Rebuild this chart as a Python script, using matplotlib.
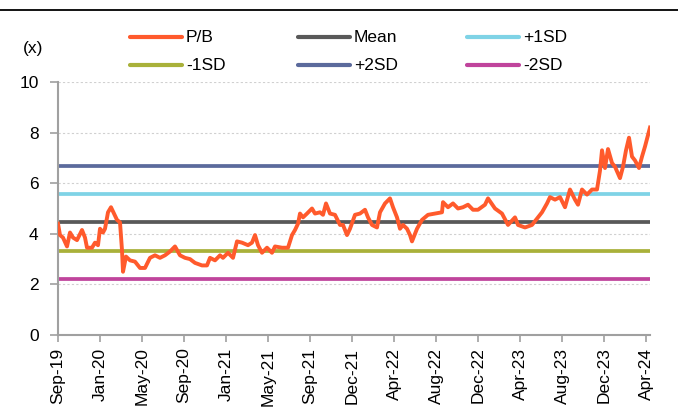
import numpy as np
import matplotlib
matplotlib.use("Agg")
import matplotlib.pyplot as plt
from matplotlib.lines import Line2D

# ---------------- data ----------------
tick_labels = ["Sep-19", "Jan-20", "May-20", "Sep-20", "Jan-21", "May-21", "Sep-21",
               "Dec-21", "Apr-22", "Aug-22", "Dec-22", "Apr-23", "Aug-23", "Dec-23", "Apr-24"]

# trading-day index of each reading (tick label every 84 trading days)
day = [0, 4, 10, 18, 24, 30, 38, 48, 54, 58, 68, 74, 80, 84, 90, 94, 100, 106, 112, 118,
       124, 128, 130, 136, 144, 154, 164, 174, 184, 194, 204, 214, 224, 234, 244, 254,
       264, 274, 288,
       298, 304, 314, 324, 330, 340, 350, 358, 368, 380, 388, 394, 400, 408, 418, 428,
       434, 448, 460, 468, 474, 480, 484, 490, 498, 508, 514, 524, 530, 536, 544, 554,
       564,
       570, 578, 584, 594, 604, 614, 620, 628, 638, 644, 654, 664, 670, 678, 684, 690,
       698, 704, 708, 718, 728, 740, 754, 768, 770, 780, 790, 800, 810, 820, 830, 840,
       854,
       860, 874, 888, 900, 914, 920, 934, 948, 958, 968, 978, 984, 994, 1004, 1014, 1024,
       1034, 1040, 1048, 1058, 1068, 1078, 1084, 1088, 1094, 1100, 1108, 1114, 1124,
       1130, 1136, 1142, 1148, 1154, 1162, 1168, 1174, 1180, 1184]

pb = [4.4, 3.95, 3.85, 3.5, 4.05, 3.85, 3.75, 4.15, 3.85, 3.45, 3.45, 3.65, 3.55, 4.2,
      4.05, 4.2, 4.85, 5.05, 4.8, 4.55, 4.45, 3.35, 2.5, 3.1, 2.95, 2.9, 2.65, 2.65, 3.05,
      3.15, 3.05, 3.15, 3.3, 3.5, 3.15, 3.05, 3.0, 2.85, 2.75,
      2.75, 3.05, 2.95, 3.15, 3.05, 3.25, 3.05, 3.7, 3.65, 3.55, 3.65, 3.95, 3.55, 3.25,
      3.45, 3.25, 3.5, 3.45, 3.45, 3.95, 4.15, 4.4, 4.8, 4.65, 4.8, 5.0, 4.8, 4.85, 4.75,
      5.2, 4.8, 4.75, 4.35,
      4.35, 3.95, 4.2, 4.75, 4.8, 4.95, 4.65, 4.35, 4.25, 4.85, 5.2, 5.4, 5.05, 4.65,
      4.2, 4.35, 4.2, 3.95, 3.7, 4.2, 4.55, 4.75, 4.8, 4.85, 5.25, 5.05, 5.2, 5.0, 5.05,
      5.15, 4.95, 4.95, 5.15,
      5.4, 5.0, 4.8, 4.35, 4.65, 4.35, 4.25, 4.35, 4.6, 4.85, 5.2, 5.45, 5.35, 5.45,
      5.05, 5.75, 5.35, 5.15, 5.75, 5.55, 5.75, 5.75, 6.5, 7.3, 6.6, 7.35, 6.8, 6.65,
      6.2, 6.65, 7.3, 7.8, 7.05, 6.9, 6.6, 7.05, 7.45, 7.9, 8.2]

mean_val = 4.45
p1sd = 5.57
m1sd = 3.32
p2sd = 6.68
m2sd = 2.21

tick_step = 84  # trading days between labelled ticks

# ---------------- style ----------------
plt.rcParams["font.family"] = ["Liberation Sans", "DejaVu Sans"]
fs = 12.5

c_pb = "#FF5A2C"
c_mean = "#595959"
c_p1 = "#7FD3E6"
c_m1 = "#A9B13A"
c_p2 = "#5B6A9C"
c_m2 = "#C0449C"

W, H = 678, 412
fig = plt.figure(figsize=(W / 100, H / 100), dpi=100)
ax = fig.add_axes([58 / W, 1 - 335 / H, 592 / W, 253 / H])

lw_ref = 2.7
ax.axhline(m2sd, color=c_m2, lw=lw_ref, zorder=2)
ax.axhline(m1sd, color=c_m1, lw=lw_ref, zorder=2)
ax.axhline(p1sd, color=c_p1, lw=lw_ref, zorder=2)
ax.axhline(p2sd, color=c_p2, lw=lw_ref, zorder=2)
ax.axhline(mean_val, color=c_mean, lw=lw_ref, zorder=2)
ax.plot(day, pb, color=c_pb, lw=2.8, zorder=3, solid_joinstyle="round")

ax.set_xlim(0, max(day))
ax.set_ylim(0, 10)
ax.set_yticks([0, 2, 4, 6, 8, 10])
ax.yaxis.grid(True, color="#D0D0D0", lw=0.8, ls=(0, (2, 2)), zorder=0)

ticks = [tick_step * i for i in range(len(tick_labels))]
ax.set_xticks(ticks)
ax.set_xticklabels(tick_labels, rotation=90, fontsize=fs)
ax.tick_params(axis="y", labelsize=fs, length=6, color="#A0A0A0", width=1.2, pad=8)
ax.tick_params(axis="x", length=5, color="#A0A0A0", width=1.2, pad=4)

for s in ["top", "right"]:
    ax.spines[s].set_visible(False)
for s in ["left", "bottom"]:
    ax.spines[s].set_color("#A0A0A0")
    ax.spines[s].set_linewidth(1.5)

# (x) label
fig.text(33 / W, 1 - 48 / H, "(x)", fontsize=fs, ha="center", va="center")

# top rule
fig.add_artist(Line2D([0, 1], [1 - 10 / H] * 2, color="black", lw=1.3,
                      transform=fig.transFigure))

# legend (two rows x three columns)
legend_items = [("P/B", c_pb), ("Mean", c_mean), ("+1SD", c_p1),
                ("-1SD", c_m1), ("+2SD", c_p2), ("-2SD", c_m2)]
col_x = [130, 298, 467]
row_y = [37, 65]
for i, (lab, col) in enumerate(legend_items):
    x0 = col_x[i % 3]
    y0 = 1 - row_y[i // 3] / H
    fig.add_artist(Line2D([x0 / W, (x0 + 52) / W], [y0, y0], color=col, lw=3,
                          solid_capstyle="round", transform=fig.transFigure))
    fig.text((x0 + 56) / W, y0, lab, fontsize=fs, ha="left", va="center")

fig.savefig("out.png", dpi=100)
